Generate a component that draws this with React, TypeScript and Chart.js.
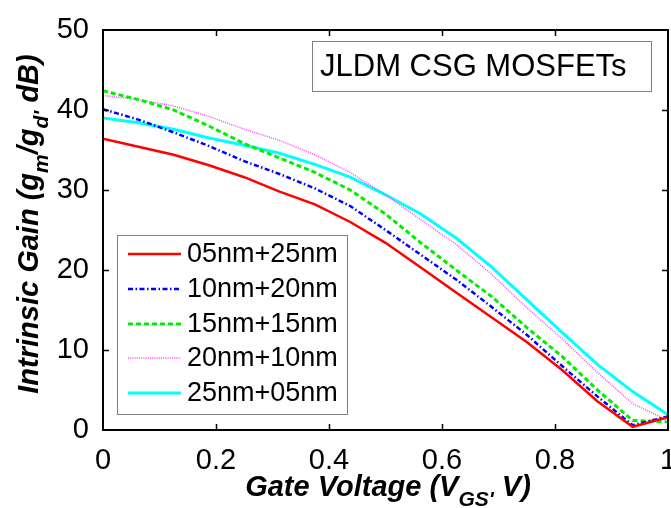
import React, { useEffect, useRef } from "react";
import { Chart, registerables } from "chart.js";
Chart.register(...registerables);

const FONT = '"Liberation Sans", Arial, Helvetica, sans-serif';

// Gate voltage (V)
const gateVoltage = [0, 0.0625, 0.125, 0.1875, 0.25, 0.3125, 0.375, 0.4375, 0.5, 0.5625, 0.625, 0.6875, 0.75, 0.8125, 0.875, 0.9375, 1.0];

// Intrinsic gain (dB)
const gain05_25 = [36.4, 35.4, 34.4, 33.1, 31.6, 29.8, 28.2, 26.0, 23.4, 20.3, 17.2, 14.1, 11.0, 7.5, 3.6, 0.4, 1.6];
const gain10_20 = [40.1, 38.8, 37.2, 35.5, 33.6, 32.0, 30.2, 28.0, 25.0, 21.9, 18.8, 15.4, 11.9, 8.0, 4.2, 0.6, 1.7];
const gain15_15 = [42.4, 41.3, 40.0, 38.0, 35.8, 34.0, 32.2, 30.0, 27.0, 23.4, 20.0, 16.7, 12.8, 9.2, 5.0, 1.2, 1.0];
const gain20_10 = [41.8, 41.3, 40.5, 39.2, 37.6, 36.2, 34.4, 32.2, 29.4, 26.3, 23.2, 19.5, 15.3, 11.4, 7.2, 3.3, 1.2];
const gain25_05 = [39.0, 38.4, 37.6, 36.5, 35.6, 34.6, 33.2, 31.6, 29.4, 27.0, 24.0, 20.4, 16.3, 12.2, 8.2, 4.8, 1.9];

const seriesLabels = ["05nm+25nm", "10nm+20nm", "15nm+15nm", "20nm+10nm", "25nm+05nm"];
const xTicks = [0, 0.2, 0.4, 0.6, 0.8, 1];
const yTicks = [0, 10, 20, 30, 40, 50];

const styles = [
  { color: "#ff0000", width: 2.5, dash: [] as number[] },
  { color: "#0000ff", width: 2.5, dash: [5, 2.5, 1.5, 2.5] },
  { color: "#00ee00", width: 3, dash: [5, 3] },
  { color: "#ff44ff", width: 1.5, dash: [1, 1.2] },
  { color: "#00ffff", width: 3, dash: [] as number[] },
];

const allSeries = [gain05_25, gain10_20, gain15_15, gain20_10, gain25_05];

type Part = { t: string; sub?: boolean };

function drawRich(ctx: CanvasRenderingContext2D, parts: Part[], cx: number, cy: number, size: number) {
  const main = `italic bold ${size}px ${FONT}`;
  const subSize = Math.round(size * 0.72);
  const subF = `italic bold ${subSize}px ${FONT}`;
  let total = 0;
  const widths = parts.map((p) => {
    ctx.font = p.sub ? subF : main;
    const w = ctx.measureText(p.t).width;
    total += w;
    return w;
  });
  let x = cx - total / 2;
  ctx.textAlign = "left";
  ctx.textBaseline = "alphabetic";
  parts.forEach((p, i) => {
    ctx.font = p.sub ? subF : main;
    ctx.fillText(p.t, x, p.sub ? cy + size * 0.35 : cy);
    x += widths[i];
  });
}

const decor = {
  id: "decor",
  afterDatasetsDraw(chart: any) {
    const { ctx, chartArea: a, scales } = chart;
    const xs = scales.x;
    const ys = scales.y;
    ctx.save();
    // frame
    ctx.strokeStyle = "#000";
    ctx.lineWidth = 2;
    ctx.setLineDash([]);
    ctx.strokeRect(a.left, a.top, a.right - a.left, a.bottom - a.top);
    // inward ticks
    ctx.lineWidth = 1.5;
    const tl = 6;
    xTicks.slice(1, -1).forEach((v) => {
      const px = Math.round(xs.getPixelForValue(v)) + 0.5;
      ctx.beginPath();
      ctx.moveTo(px, a.bottom);
      ctx.lineTo(px, a.bottom - tl);
      ctx.moveTo(px, a.top);
      ctx.lineTo(px, a.top + tl);
      ctx.stroke();
    });
    yTicks.slice(1, -1).forEach((v) => {
      const py = Math.round(ys.getPixelForValue(v)) + 0.5;
      ctx.beginPath();
      ctx.moveTo(a.left, py);
      ctx.lineTo(a.left + tl, py);
      ctx.moveTo(a.right, py);
      ctx.lineTo(a.right - tl, py);
      ctx.stroke();
    });

    // title box
    ctx.fillStyle = "#fff";
    ctx.fillRect(312, 41, 339, 50);
    ctx.strokeStyle = "#808080";
    ctx.lineWidth = 1;
    ctx.strokeRect(312.5, 41.5, 339, 50);
    ctx.fillStyle = "#000";
    ctx.font = `31px ${FONT}`;
    ctx.textAlign = "left";
    ctx.textBaseline = "middle";
    ctx.fillText("JLDM CSG MOSFETs", 320, 67);

    // legend box
    ctx.fillStyle = "#fff";
    ctx.fillRect(117, 235, 230, 179);
    ctx.strokeStyle = "#808080";
    ctx.strokeRect(117.5, 235.5, 230, 179);
    const rows = [254, 289, 324, 358, 393];
    seriesLabels.forEach((lab, i) => {
      const s = styles[i];
      ctx.strokeStyle = s.color;
      ctx.lineWidth = s.width;
      ctx.setLineDash(s.dash);
      ctx.beginPath();
      ctx.moveTo(128, rows[i]);
      ctx.lineTo(181, rows[i]);
      ctx.stroke();
      ctx.setLineDash([]);
      ctx.fillStyle = "#000";
      ctx.font = `27px ${FONT}`;
      ctx.textAlign = "left";
      ctx.textBaseline = "middle";
      ctx.fillText(lab, 187, rows[i] + 1);
    });

    // axis titles
    ctx.fillStyle = "#000";
    drawRich(
      ctx,
      [{ t: "Gate Voltage (V" }, { t: "GS'", sub: true }, { t: " V)" }],
      388,
      496,
      29
    );
    ctx.save();
    ctx.translate(38, 224);
    ctx.rotate(-Math.PI / 2);
    drawRich(
      ctx,
      [{ t: "Intrinsic Gain (g" }, { t: "m", sub: true }, { t: "/g" }, { t: "d'", sub: true }, { t: " dB)" }],
      0,
      0,
      29
    );
    ctx.restore();
    ctx.restore();
  },
};

const fmt = (v: any) => String(+(+v).toFixed(2));

export default function App() {
  const ref = useRef<HTMLCanvasElement>(null);
  useEffect(() => {
    document.body.style.margin = "0";
    const canvas = ref.current!;
    const chart = new Chart(canvas, {
      type: "line",
      data: {
        datasets: allSeries.map((ys, i) => ({
          label: seriesLabels[i],
          data: gateVoltage.map((x, j) => ({ x, y: ys[j] })),
          borderColor: styles[i].color,
          borderWidth: styles[i].width,
          borderDash: styles[i].dash,
          pointRadius: 0,
          tension: 0,
          fill: false,
        })),
      },
      options: {
        animation: false,
        responsive: false,
        layout: { padding: { left: 0, right: 3, top: 30, bottom: 0 } },
        plugins: { legend: { display: false }, tooltip: { enabled: false }, title: { display: false } },
        scales: {
          x: {
            type: "linear",
            min: 0,
            max: 1,
            grid: { display: false },
            border: { display: false },
            ticks: {
              stepSize: 0.2,
              color: "#000",
              font: { family: FONT, size: 29 },
              padding: 6,
              maxRotation: 0,
              autoSkip: false,
              callback: fmt,
            },
            afterFit(scale: any) {
              scale.height = 78;
              scale.paddingLeft = 0;
              scale.paddingRight = 0;
            },
          },
          y: {
            type: "linear",
            min: 0,
            max: 50,
            grid: { display: false },
            border: { display: false },
            ticks: {
              stepSize: 10,
              color: "#000",
              font: { family: FONT, size: 29 },
              padding: 6,
              callback: fmt,
            },
            afterFit(scale: any) {
              scale.width = 103;
              scale.paddingTop = 0;
              scale.paddingBottom = 0;
            },
          },
        },
      },
      plugins: [decor],
    } as any);
    return () => chart.destroy();
  }, []);
  return (
    <div style={{ position: "absolute", left: 0, top: 0, width: 671, height: 508, background: "#fff" }}>
      <canvas ref={ref} width={671} height={508} />
    </div>
  );
}
